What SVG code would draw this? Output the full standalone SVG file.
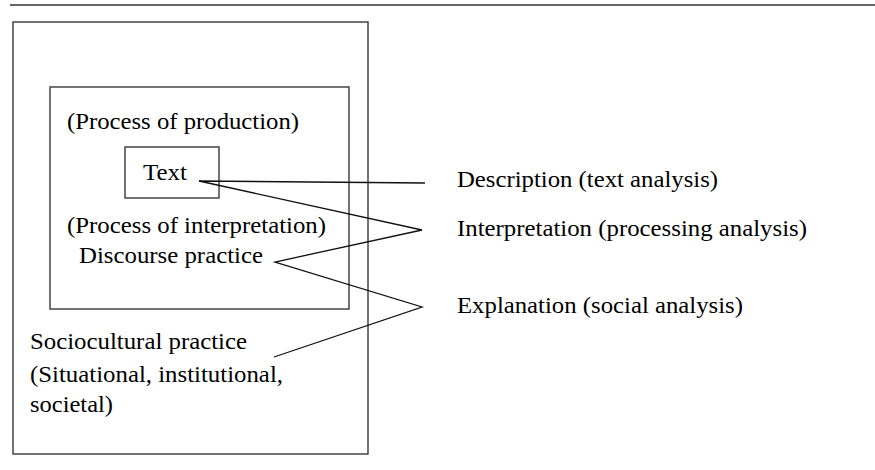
<svg xmlns="http://www.w3.org/2000/svg" width="875" height="470" viewBox="0 0 875 470">
<style>
.box{fill:none;stroke:#444;stroke-width:1.5}
.ln{fill:none;stroke:#111;stroke-width:1.3}
</style>
<rect width="875" height="470" fill="#fff"/>
<line x1="10" y1="5" x2="875" y2="5" stroke="#333" stroke-width="1.5"/>
<g font-family="Liberation Serif" font-size="23" fill="#000">
<g id="sociocultural">
<rect class="box" x="13" y="22" width="355" height="432"/>
<text x="30" y="349" textLength="217" lengthAdjust="spacingAndGlyphs">Sociocultural practice</text>
<text x="30" y="382" textLength="253" lengthAdjust="spacingAndGlyphs">(Situational, institutional,</text>
<text x="30" y="412" textLength="83" lengthAdjust="spacingAndGlyphs">societal)</text>
</g>
<g id="discourse">
<rect class="box" x="50" y="87" width="299" height="222"/>
<text x="67" y="129" textLength="232" lengthAdjust="spacingAndGlyphs">(Process of production)</text>
<text x="67" y="233" textLength="259" lengthAdjust="spacingAndGlyphs">(Process of interpretation)</text>
<text x="79" y="263" textLength="184" lengthAdjust="spacingAndGlyphs">Discourse practice</text>
</g>
<g id="text">
<rect class="box" x="125" y="147" width="94" height="51"/>
<text x="143" y="180" textLength="44" lengthAdjust="spacingAndGlyphs">Text</text>
</g>
<g id="description"><text x="457" y="187" textLength="261" lengthAdjust="spacingAndGlyphs">Description (text analysis)</text></g>
<g id="interpretation"><text x="457" y="236" textLength="350" lengthAdjust="spacingAndGlyphs">Interpretation (processing analysis)</text></g>
<g id="explanation"><text x="457" y="313" textLength="286" lengthAdjust="spacingAndGlyphs">Explanation (social analysis)</text></g>
</g>
<g id="connectors">
<polyline class="ln" points="425,183 199,181 422,230 275,262 422,307 274,357"/>
</g>
</svg>
